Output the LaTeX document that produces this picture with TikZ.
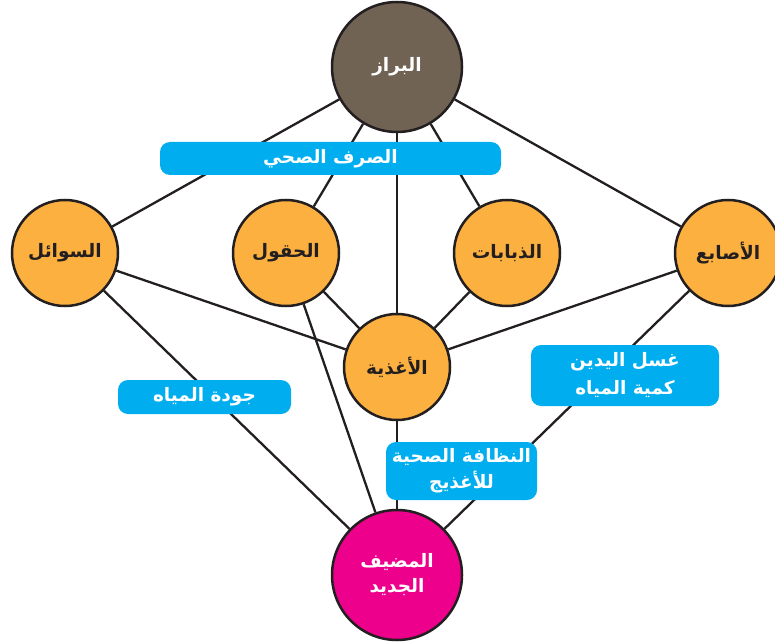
\documentclass[tikz,border=0pt]{standalone}
\usepackage{fontspec}
\usepackage{xcolor}
\usepackage{tikz}
\usetikzlibrary{positioning}
\newfontfamily\arabicfont[Script=Arabic]{DejaVu Sans}
\TeXXeTstate=1
\definecolor{darkline}{HTML}{231F20}
\definecolor{stool}{HTML}{706354}
\definecolor{amber}{HTML}{FBB040}
\definecolor{hostpink}{HTML}{EC008C}
\definecolor{sky}{HTML}{00AEEF}
\tikzstyle{circ}=[circle, draw=darkline, line width=2.5pt, fill=amber, text=darkline, minimum size=106pt, inner sep=0pt, align=center]
\tikzstyle{bigcirc}=[circ, minimum size=130pt, text=white]
\tikzstyle{tag}=[rectangle, fill=sky, text=white, rounded corners=10pt, inner sep=0pt, align=center]
\tikzstyle{link}=[line width=2.3pt, draw=darkline]
\newcommand{\ar}[1]{\beginR #1\endR}

\begin{document}
\begin{tikzpicture}[x=1pt, y=-1pt]

\tikzset{every node/.style={font=\arabicfont\bfseries\fontsize{18.5pt}{24pt}\selectfont}}

\clip (0,0) rectangle (775,644);

% Circles
\node[bigcirc, fill=stool] (brz) at (397,67) {\ar{البراز}};
\node[circ] (swl) at (65,253) {\ar{السوائل}};
\node[circ] (hql) at (286,253) {\ar{الحقول}};
\node[circ] (dbb) at (507,253) {\ar{الذبابات}};
\node[circ] (asb) at (728,253) {\ar{الأصابع}};
\node[circ] (agd) at (397,367) {\ar{الأغذية}};
\node[bigcirc, fill=hostpink] (mdf) at (397,575) {\ar{المضيف}\\[1pt]\ar{الجديد}};

% Lines from the top
\draw[link] (brz) -- (swl); % brz -> swl
\draw[link] (brz) -- (hql); % brz -> hql
\draw[link] (brz) -- (agd); % brz -> agd
\draw[link] (brz) -- (dbb); % brz -> dbb
\draw[link] (brz) -- (asb); % brz -> asb

% Lines to the food
\draw[link] (swl) -- (agd); % swl -> agd
\draw[link] (hql) -- (agd); % hql -> agd
\draw[link] (dbb) -- (agd); % dbb -> agd
\draw[link] (asb) -- (agd); % asb -> agd

% Lines to the host
\draw[link] (swl) -- (mdf); % swl -> mdf
\draw[link] (hql) -- (mdf); % hql -> mdf
\draw[link] (agd) -- (mdf); % agd -> mdf
\draw[link] (asb) -- (mdf); % asb -> mdf

% Barriers
\node[tag, minimum width=341pt, minimum height=33pt] (srf) at (330.5,158.5) {\ar{الصرف الصحي}};
\node[tag, minimum width=173pt, minimum height=34pt] (jwd) at (204.5,397) {\ar{جودة المياه}};
\node[tag, minimum width=188pt, minimum height=61pt] (gsl) at (625,375.5) {\ar{غسل اليدين}\\[4pt]\ar{كمية المياه}};
\node[tag, minimum width=151pt, minimum height=58pt] (ndf) at (461.5,471) {\ar{النظافة الصحية}\\[2pt]\ar{للأغذيج}};

\end{tikzpicture}
\end{document}
